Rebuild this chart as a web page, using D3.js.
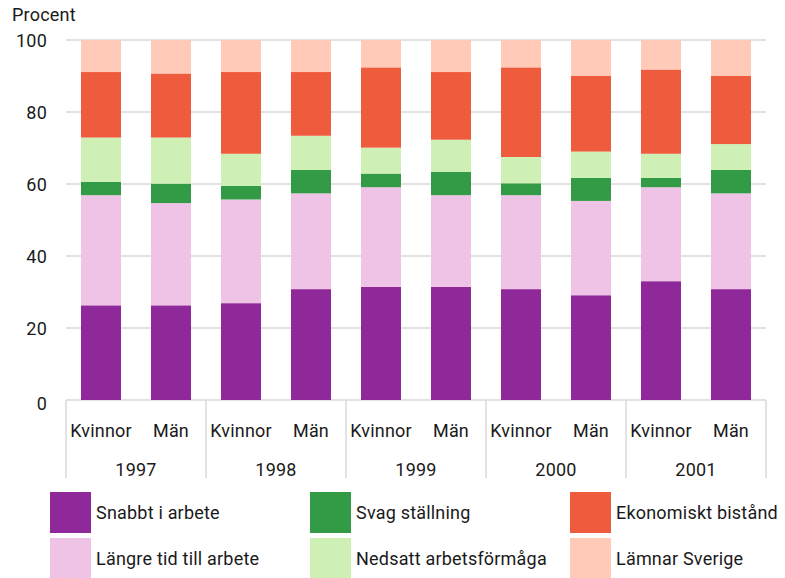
<!DOCTYPE html>
<html><head><meta charset="utf-8">
<script src="https://cdn.jsdelivr.net/npm/d3@7"></script>
<style>
html,body{margin:0;padding:0;background:#fff;}
text{font-family:Roboto,"Noto Sans",sans-serif;fill:#1a1a1a;letter-spacing:0.2px;}
</style></head>
<body>
<svg id="chart" width="785" height="578"></svg>
<script>
const years = ["1997","1998","1999","2000","2001"];
const genders = ["Kvinnor","Män"];
const seriesNames = ["Snabbt i arbete","Längre tid till arbete","Svag ställning","Nedsatt arbetsförmåga","Ekonomiskt bistånd","Lämnar Sverige"];
const colors = ["#8f2899","#efc3e5","#339b46","#cff0b5","#ef5b3d","#ffcbb8"];
// values per bar (order: 1997 K, 1997 M, 1998 K, ...)
const snabbt  = [26.3, 26.3, 26.9, 30.8, 31.4, 31.4, 30.8, 29.1, 33.0, 30.8];
const langre  = [30.6, 28.4, 28.8, 26.6, 27.7, 25.5, 26.1, 26.2, 26.1, 26.6];
const svag    = [3.7, 5.4, 3.8, 6.5, 3.8, 6.5, 3.3, 6.4, 2.6, 6.5];
const nedsatt = [12.3, 12.8, 8.9, 9.5, 7.2, 8.9, 7.3, 7.3, 6.7, 7.2];
const ekon    = [18.2, 17.8, 22.7, 17.7, 22.3, 18.8, 24.9, 21.1, 23.4, 18.9];
const lamnar  = [8.9, 9.3, 8.9, 8.9, 7.6, 8.9, 7.6, 9.9, 8.2, 10.0];
const seriesValues = [snabbt, langre, svag, nedsatt, ekon, lamnar];
const yTicks = [0,20,40,60,80,100];

const svg = d3.select("#chart");
const mLeft = 66, mRight = 766, mTop = 40, mBottom = 400;
const fs = "18px";

const x0 = d3.scaleBand().domain(years).range([mLeft, mRight]).padding(0);
const x1 = d3.scaleBand().domain(genders).range([0, x0.bandwidth()]).paddingInner(0.4286).paddingOuter(0.2143);
const y = d3.scaleLinear().domain([0,100]).range([mBottom, mTop]);

const rows = [];
years.forEach((yr, i) => genders.forEach((g, j) => {
  const r = {year: yr, gender: g};
  seriesNames.forEach((s, k) => r[s] = seriesValues[k][i*2+j]);
  rows.push(r);
}));
const stacked = d3.stack().keys(seriesNames)(rows);

svg.append("g").selectAll("line").data(yTicks).join("line")
  .attr("x1", mLeft).attr("x2", mRight)
  .attr("y1", d => y(d)).attr("y2", d => y(d))
  .attr("stroke", "#d9d9d9").attr("stroke-width", 1.5);

svg.append("g").selectAll("text").data(yTicks).join("text")
  .attr("x", 47).attr("y", d => y(d) + (d===0?3:0))
  .attr("text-anchor", "end").attr("dominant-baseline", "central")
  .style("font-size", fs).text(d => d);

svg.append("text").attr("x", 12).attr("y", 21).style("font-size", fs).text("Procent");

svg.append("g").selectAll("g").data(stacked).join("g")
  .attr("fill", (d, i) => colors[i])
  .selectAll("rect").data(d => d).join("rect")
  .attr("x", d => x0(d.data.year) + x1(d.data.gender))
  .attr("width", x1.bandwidth())
  .attr("y", d => y(d[1]))
  .attr("height", d => y(d[0]) - y(d[1]));

const seps = years.map(yv => x0(yv)).concat([mRight]);
svg.append("g").selectAll("line").data(seps).join("line")
  .attr("x1", d => d).attr("x2", d => d)
  .attr("y1", mBottom).attr("y2", 478)
  .attr("stroke", "#d9d9d9").attr("stroke-width", 1.5);

const gl = svg.append("g");
years.forEach(yr => genders.forEach(g => {
  gl.append("text")
    .attr("x", x0(yr) + x1(g) + x1.bandwidth()/2)
    .attr("y", 430).attr("text-anchor", "middle").attr("dominant-baseline", "central")
    .style("font-size", fs).text(g);
}));
svg.append("g").selectAll("text").data(years).join("text")
  .attr("x", d => x0(d) + x0.bandwidth()/2).attr("y", 469)
  .attr("text-anchor", "middle").attr("dominant-baseline", "central")
  .style("font-size", fs).text(d => d);

const legendCols = [50, 310, 570];
const legendRows = [492, 538];
const order = [0, 2, 4, 1, 3, 5];
const lg = svg.append("g");
seriesNames.forEach((s, k) => {
  const pos = order.indexOf(k);
  const col = pos % 3, row = Math.floor(pos / 3);
  lg.append("rect").attr("x", legendCols[col]).attr("y", legendRows[row])
    .attr("width", 41).attr("height", 41).attr("fill", colors[k]);
  lg.append("text").attr("x", legendCols[col] + 46).attr("y", legendRows[row] + 20.5)
    .attr("dominant-baseline", "central").style("font-size", fs).text(s);
});
</script>
</body></html>
